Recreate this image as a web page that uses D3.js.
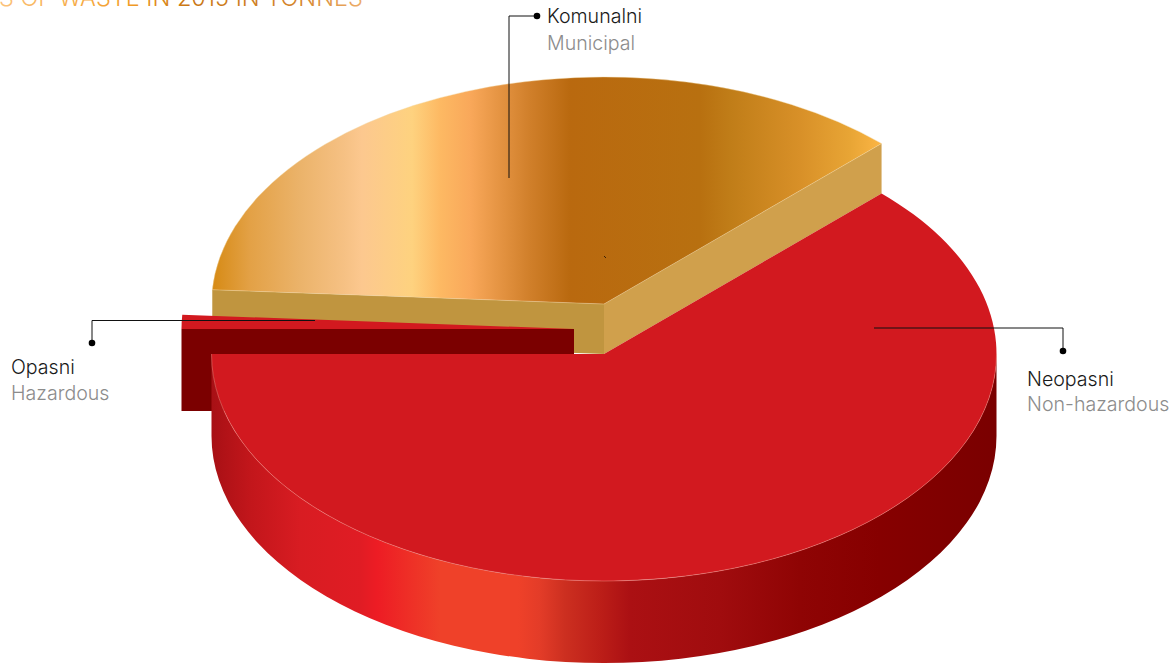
<!DOCTYPE html>
<html>
<head>
<meta charset="utf-8">
<script src="https://cdnjs.cloudflare.com/ajax/libs/d3/7.8.5/d3.min.js"></script>
<style>
html, body { margin: 0; padding: 0; background: #fff; overflow: hidden; }
text { font-family: "Inter", sans-serif; font-weight: 300; }
</style>
</head>
<body>
<script>
// shares of the pie
var names = ["Neopasni", "Opasni", "Komunalni"];
var namesEn = ["Non-hazardous", "Hazardous", "Municipal"];
var shares = [62.5, 1, 36.5];
var titleText = "S OF WASTE IN 2015 IN TONNES";

var width = 1174,
    height = 663;

var rx = 392.5,
    ry = 227;

var svg = d3.select("body").append("svg")
    .attr("width", width)
    .attr("height", height);

var defs = svg.append("defs");

function gradient(id, stops) {
    var x = d3.scaleLinear()
        .domain([stops[0][0], stops[stops.length - 1][0]])
        .range([0, 1]);
    var g = defs.append("linearGradient")
        .attr("id", id)
        .attr("gradientUnits", "userSpaceOnUse")
        .attr("x1", stops[0][0]).attr("y1", 0)
        .attr("x2", stops[stops.length - 1][0]).attr("y2", 0);
    stops.forEach(function(s) {
        g.append("stop").attr("offset", x(s[0])).attr("stop-color", s[1]);
    });
}

gradient("brownTop", [[212, "#d68a14"], [250, "#e3a146"], [300, "#ebb36a"], [345, "#f6c184"],
    [362, "#fcc88f"], [412, "#fed27f"], [440, "#fdb963"], [470, "#f9a85a"], [530, "#d07f2a"],
    [570, "#b9690f"], [700, "#b87010"], [730, "#c07d18"], [800, "#d89028"], [850, "#e8a535"],
    [881, "#fbb545"]]);
gradient("redWall", [[212, "#a81015"], [250, "#c2161b"], [300, "#d81c22"], [360, "#e01c24"],
    [377, "#ed1c24"], [440, "#ef4129"], [518, "#ef4129"], [540, "#e33c28"], [565, "#cc2f20"],
    [600, "#bc1e18"], [630, "#ab1013"], [720, "#a00c0e"], [800, "#8f0404"], [880, "#860000"],
    [997, "#7a0000"]]);
gradient("titleFill", [[0, "#fbc27a"], [130, "#f29c26"], [190, "#c87414"], [300, "#d5852f"],
    [366, "#eeaf6c"]]);

var pie = d3.pie()
    .sort(null)
    .startAngle(Math.PI / 4)
    .endAngle(Math.PI / 4 + 2 * Math.PI);
var slices = pie(shares);

function pt(c, a) {
    return [c[0] + rx * Math.sin(a), c[1] - ry * Math.cos(a)];
}

function sector(c, a0, a1) {
    var p0 = pt(c, a0), p1 = pt(c, a1);
    return "M" + c + "L" + p0 + "A" + rx + "," + ry + " 0 " + (a1 - a0 > Math.PI ? 1 : 0) + " 1 " + p1 + "Z";
}

// outer wall of the ellipse between two angles
function wall(c, a0, a1, depth) {
    var p0 = pt(c, a0), p1 = pt(c, a1);
    var q0 = [p0[0], p0[1] + depth], q1 = [p1[0], p1[1] + depth];
    return "M" + p0 + "A" + rx + "," + ry + " 0 0 1 " + p1 + "L" + q1 + "A" + rx + "," + ry + " 0 0 0 " + q0 + "Z";
}

// flat cut face going from the centre to the rim
function face(c, a, depth) {
    var p = pt(c, a);
    return "M" + c + "L" + p + "L" + [p[0], p[1] + depth] + "L" + [c[0], c[1] + depth] + "Z";
}

// each slice is pulled out on its own
var cRed = [604, 354],
    cHaz = [574, 329],
    cBrown = [604, 304];
var depthRed = 82,
    depthHaz = 82,
    depthBrown = 50;

var red = slices[0], haz = slices[1], brown = slices[2];

// Komunalni
svg.append("path").attr("d", face(cBrown, brown.startAngle, depthBrown)).attr("fill", "#c0953f");
svg.append("path").attr("d", face(cBrown, brown.endAngle, depthBrown)).attr("fill", "#d0a04c");
svg.append("path").attr("d", sector(cBrown, brown.startAngle, brown.endAngle))
    .attr("fill", "url(#brownTop)")
    .attr("stroke", "#f3d9a6").attr("stroke-width", 0.4);

// Opasni
svg.append("path").attr("d", face(cHaz, haz.startAngle, depthHaz)).attr("fill", "#7b0000");
svg.append("path").attr("d", sector(cHaz, haz.startAngle, haz.endAngle)).attr("fill", "#d2191f");

// Neopasni
svg.append("path").attr("d", wall(cRed, Math.PI / 2, red.endAngle, depthRed)).attr("fill", "url(#redWall)");
svg.append("path").attr("d", sector(cRed, red.startAngle, red.endAngle)).attr("fill", "#d2191f");
svg.append("path")
    .attr("d", "M" + pt(cRed, Math.PI / 2) + "A" + rx + "," + ry + " 0 0 1 " + pt(cRed, red.endAngle))
    .attr("fill", "none")
    .attr("stroke", "#f08a80").attr("stroke-width", 0.5);

// little speck in the original artwork
svg.append("path").attr("d", "M604,256L606,258").attr("stroke", "#3a2008").attr("stroke-width", 1);

// Title, cut by the top of the page
svg.append("text")
    .attr("x", -1)
    .attr("y", 6)
    .attr("font-size", 23.5)
    .attr("fill", "url(#titleFill)")
    .text(titleText);

// Leaders and labels
var leaders = [
    {i: 2, line: [[509, 178], [509, 16], [537, 16]], tx: 547, ty: 23, gap: 27},
    {i: 0, line: [[874, 328], [1063, 328], [1063, 351]], tx: 1027, ty: 386, gap: 25},
    {i: 1, line: [[315, 320.5], [92, 320.5], [92, 343]], tx: 11, ty: 374, gap: 26}
];
var line = d3.line();

leaders.forEach(function(d) {
    var end = d.line[d.line.length - 1];
    svg.append("path").attr("d", line(d.line))
        .attr("fill", "none").attr("stroke", "#111").attr("stroke-width", 1);
    svg.append("circle").attr("cx", end[0]).attr("cy", end[1]).attr("r", 3.3).attr("fill", "#000");
    svg.append("text").attr("x", d.tx).attr("y", d.ty)
        .attr("font-size", 19.6).attr("fill", "#1a1a1a").text(names[d.i]);
    svg.append("text").attr("x", d.tx).attr("y", d.ty + d.gap)
        .attr("font-size", 19.6).attr("fill", "#8c8c8c").text(namesEn[d.i]);
});
</script>
</body>
</html>
